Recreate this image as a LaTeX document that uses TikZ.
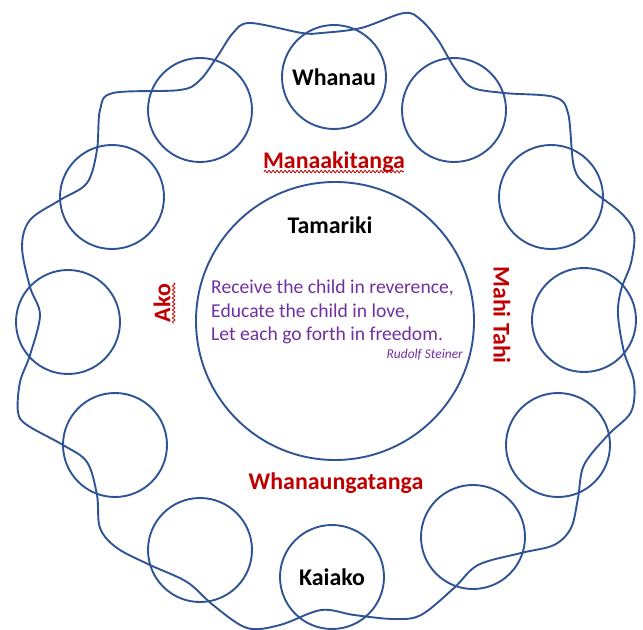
\documentclass[tikz,border=0pt]{standalone}
\usepackage{fontspec}
\setmainfont{Carlito}
\usepackage{tikz}
\usetikzlibrary{decorations.pathmorphing}
\definecolor{ringblue}{RGB}{47,84,150}
\definecolor{valred}{RGB}{192,0,0}
\definecolor{quotepurple}{RGB}{112,48,160}
\tikzset{
  ring/.style={circle,draw=ringblue,line width=1.9bp,minimum size=104bp,inner sep=0pt},
  hub/.style={ring,minimum size=278bp},
  person/.style={font=\fontsize{24}{28}\selectfont\bfseries,text=black},
  value/.style={font=\fontsize{24}{28}\selectfont\bfseries,text=valred,inner sep=1pt},
  squiggle/.style={valred,line width=0.8bp,decorate,decoration={snake,amplitude=1.3bp,segment length=4bp}}
}

\begin{document}
\begin{tikzpicture}[x=1bp,y=-1bp]
  \useasboundingbox (0,0) rectangle (643,630);

  % the weaving thread round the twelve circles
  \draw[ringblue,line width=1.9bp] plot[smooth cycle,tension=0.55] coordinates {
    (30,287) (22,247) (30,220) (60,200) (87,183) (97,150) (100,110) (113,93)
    (180,90) (200,80) (217,57) (233,33) (250,23) (302,33) (321,33) (361,28)
    (404,13) (421,20) (438,40) (454,67) (471,87) (504,93) (554,97) (568,113)
    (574,167) (588,187) (621,213) (634,233) (631,263) (621,290) (618,315)
    (624,352) (634,382) (631,412) (608,435) (584,465) (578,498) (571,528)
    (554,545) (521,553) (478,565) (454,588) (421,615) (394,619) (354,615)
    (321,610) (280,625) (247,628) (213,605) (187,582) (150,565) (117,548)
    (100,528) (97,495) (87,462) (63,445) (27,425) (18,412) (20,382) (30,355)
    (40,315)};

  % outer circles, clockwise from the top
  \node[ring,person] (whanau) at (334,77) {Whanau};
  \node[ring] (c1) at (454,110) {};
  \node[ring] (c2) at (551,197) {};
  \node[ring] (c3) at (584,320) {};
  \node[ring] (c4) at (558,445) {};
  \node[ring] (c5) at (473,537) {};
  \node[ring,person] (kaiako) at (332,577) {Kaiako};
  \node[ring] (c7) at (200,550) {};
  \node[ring] (c8) at (115,445) {};
  \node[ring] (c9) at (68,322) {};
  \node[ring] (c10) at (112,197) {};
  \node[ring] (c11) at (200,110) {};

  % centre
  \node[hub] (tamarikicircle) at (335,321) {};
  \node[person] (tamariki) at (330,225) {Tamariki};
  \node[anchor=west,inner sep=0pt,text=quotepurple,align=left,
        font=\fontsize{19.7}{23.5}\selectfont] (quote) at (211,312)
       {Receive the child in reverence,\\Educate the child in love,\\Let each go forth in freedom.};
  \node[anchor=east,inner sep=0pt,text=quotepurple,
        font=\fontsize{13.5}{16}\selectfont\itshape] (steiner) at (463,355) {Rudolf Steiner};

  % values
  \node[value] (manaaki) at (334,162) {Manaakitanga};
  \draw[squiggle] (manaaki.south west) ++(2,-2) coordinate (mw) -- ([xshift=-2,yshift=2]manaaki.south east);
  \node[value] (whanaunga) at (336,483) {Whanaungatanga};
  \node[value,rotate=90] (ako) at (162,303) {Ako};
  \draw[squiggle] ([xshift=2]ako.south east) -- ([xshift=2]ako.south west);
  \node[value,rotate=-90] (mahitahi) at (502,315) {Mahi Tahi};
\end{tikzpicture}
\end{document}
